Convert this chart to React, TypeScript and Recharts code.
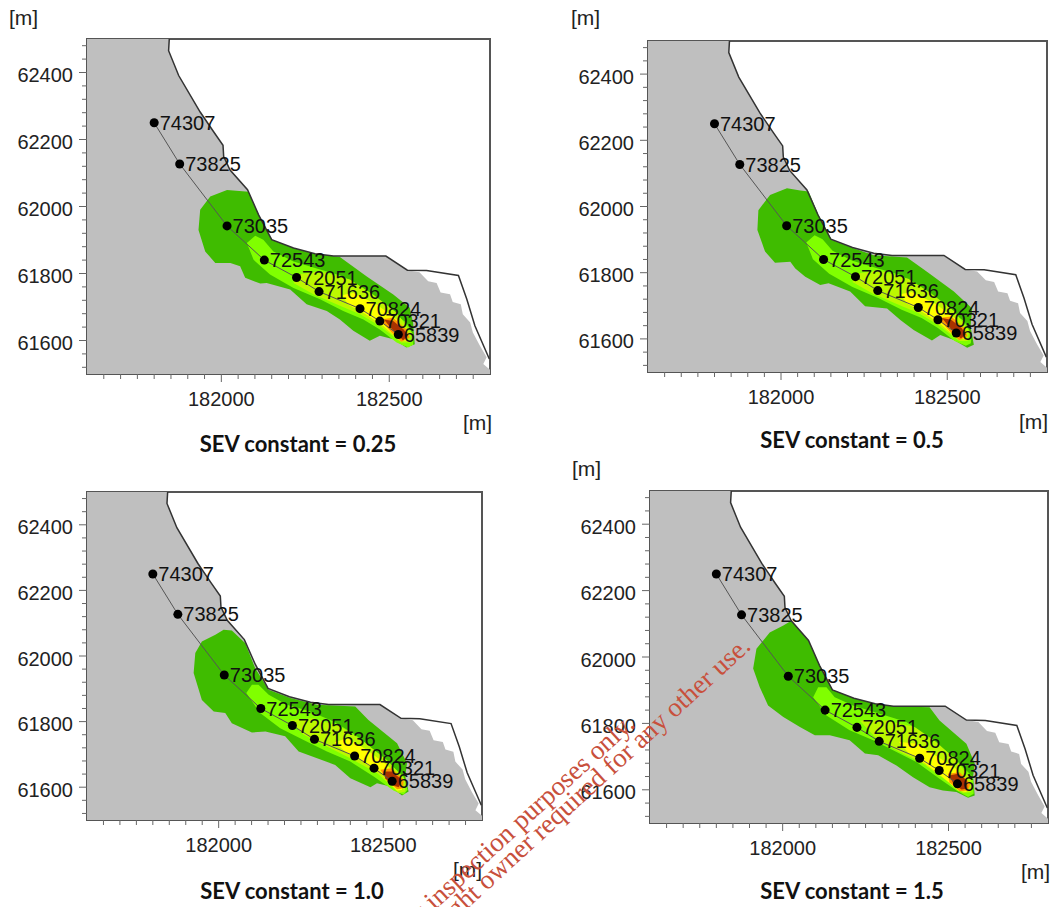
import { ScatterChart, Scatter, XAxis, YAxis, ZAxis, ReferenceArea, LabelList } from "recharts";

type Pair = [number, number];

const xDomain = [181600, 182800];
const yDomain = [61500, 62500];
const xTicks = [181650, 181700, 181750, 181800, 181850, 181900, 181950, 182000, 182050, 182100, 182150, 182200, 182250, 182300, 182350, 182400, 182450, 182500, 182550, 182600, 182650, 182700, 182750];
const yTicks = [61520, 61560, 61600, 61640, 61680, 61720, 61760, 61800, 61840, 61880, 61920, 61960, 62000, 62040, 62080, 62120, 62160, 62200, 62240, 62280, 62320, 62360, 62400, 62440, 62480];
const xLabelled = [182000, 182500];
const yLabelled = [61600, 61800, 62000, 62200, 62400];

const stationNames = ["74307", "73825", "73035", "72543", "72051", "71636", "70824", "70321", "65839"];
const stationPos: Pair[] = [[181800, 62250], [181876, 62127], [182017, 61942], [182128, 61840], [182224, 61788], [182291, 61746], [182413, 61695], [182472, 61658], [182527, 61618]];

const coast: Pair[] = [[181845, 62500], [181843, 62465], [181873, 62391], [181937, 62282], [181977, 62223], [182005, 62183], [182007, 62149], [182026, 62109], [182078, 62050], [182111, 61975], [182150, 61901], [182215, 61876], [182279, 61859], [182334, 61852], [182490, 61852], [182554, 61810], [182611, 61809], [182706, 61794], [182731, 61723], [182755, 61644], [182798, 61545]];
const landEdge: Pair[] = [[182590, 61804], [182616, 61777], [182641, 61772], [182653, 61743], [182681, 61738], [182689, 61715], [182713, 61708], [182719, 61678], [182741, 61654], [182749, 61624], [182770, 61584], [182790, 61550], [182780, 61530], [182800, 61513], [182800, 61500], [181600, 61500], [181600, 62500]];
const land: Pair[] = [...coast.slice(0, 16), ...landEdge];

// plume contours, one set per SEV constant
const outer025: Pair[] = [[182081, 62044], [182111, 61975], [182150, 61901], [182215, 61876], [182274, 61859], [182353, 61849], [182432, 61792], [182512, 61737], [182561, 61698], [182571, 61653], [182576, 61589], [182551, 61579], [182512, 61604], [182472, 61614], [182442, 61599], [182393, 61629], [182353, 61663], [182314, 61688], [182254, 61708], [182205, 61752], [182135, 61772], [182116, 61770], [182071, 61787], [182056, 61822], [182027, 61831], [181982, 61831], [181952, 61866], [181932, 61930], [181937, 61990], [181967, 62030], [182017, 62049]];
const outer05: Pair[] = [[182083, 62045], [182113, 61974], [182153, 61899], [182218, 61874], [182279, 61853], [182379, 61846], [182439, 61803], [182520, 61743], [182575, 61692], [182570, 61637], [182580, 61582], [182560, 61573], [182520, 61597], [182479, 61612], [182454, 61595], [182399, 61627], [182359, 61657], [182319, 61692], [182253, 61699], [182208, 61743], [182143, 61768], [182118, 61763], [182073, 61788], [182043, 61813], [182028, 61833], [181982, 61830], [181952, 61864], [181929, 61929], [181932, 61989], [181967, 62035], [182018, 62055], [182058, 62048]];
const outer10: Pair[] = [[182040, 62078], [182081, 62039], [182111, 61963], [182152, 61897], [182218, 61872], [182299, 61851], [182415, 61846], [182455, 61805], [182542, 61734], [182572, 61673], [182567, 61633], [182577, 61587], [182557, 61575], [182521, 61602], [182481, 61612], [182461, 61600], [182400, 61627], [182354, 61668], [182299, 61688], [182243, 61709], [182202, 61755], [182142, 61770], [182101, 61767], [182040, 61795], [182020, 61826], [181985, 61831], [181949, 61866], [181924, 61948], [181929, 62009], [181949, 62044], [181990, 62065], [182015, 62080]];
const outer15: Pair[] = [[182026, 62109], [182078, 62050], [182111, 61975], [182150, 61901], [182215, 61876], [182279, 61859], [182334, 61852], [182443, 61849], [182473, 61809], [182554, 61739], [182579, 61679], [182574, 61638], [182579, 61583], [182559, 61576], [182524, 61593], [182483, 61598], [182443, 61608], [182393, 61638], [182343, 61673], [182288, 61704], [182248, 61709], [182202, 61749], [182142, 61764], [182097, 61764], [182052, 61789], [182002, 61819], [181956, 61854], [181931, 61909], [181911, 61965], [181921, 62025], [181961, 62074], [182002, 62095]];

const lime025: Pair[] = [[182076, 61891], [182101, 61913], [182125, 61901], [182155, 61866], [182215, 61836], [182294, 61812], [182363, 61792], [182432, 61742], [182492, 61698], [182551, 61653], [182573, 61614], [182571, 61587], [182556, 61579], [182522, 61594], [182472, 61633], [182423, 61663], [182363, 61688], [182294, 61723], [182215, 61757], [182145, 61797], [182096, 61841]];
const lime10: Pair[] = [[182084, 61887], [182101, 61912], [182121, 61912], [182152, 61882], [182207, 61851], [182278, 61831], [182349, 61800], [182415, 61760], [182501, 61688], [182562, 61633], [182574, 61592], [182562, 61577], [182531, 61590], [182471, 61633], [182400, 61678], [182329, 61709], [182258, 61744], [182187, 61780], [182126, 61826]];
const lime15: Pair[] = [[182092, 61879], [182107, 61909], [182132, 61909], [182157, 61879], [182212, 61854], [182293, 61829], [182373, 61804], [182453, 61749], [182514, 61699], [182574, 61638], [182576, 61588], [182559, 61578], [182524, 61598], [182473, 61633], [182403, 61684], [182333, 61719], [182273, 61749], [182202, 61779], [182132, 61824]];

const pale025: Pair[] = [[182225, 61797], [182294, 61807], [182383, 61782], [182452, 61737], [182522, 61683], [182566, 61624], [182561, 61594], [182536, 61594], [182472, 61643], [182413, 61678], [182343, 61708], [182274, 61738], [182215, 61772]];
const pale10: Pair[] = [[182218, 61805], [182288, 61810], [182369, 61785], [182440, 61739], [182511, 61683], [182567, 61622], [182567, 61587], [182547, 61582], [182481, 61643], [182400, 61688], [182329, 61724], [182258, 61760]];
const pale15: Pair[] = [[182232, 61809], [182313, 61809], [182398, 61789], [182463, 61744], [182524, 61689], [182569, 61628], [182569, 61593], [182544, 61590], [182493, 61628], [182423, 61679], [182353, 61714], [182283, 61754]];

const yellow025: Pair[] = [[182358, 61735], [182393, 61742], [182462, 61708], [182522, 61663], [182556, 61614], [182551, 61599], [182531, 61601], [182482, 61643], [182423, 61683], [182380, 61706]];
const yellow10: Pair[] = [[182352, 61737], [182390, 61749], [182450, 61714], [182511, 61668], [182557, 61622], [182557, 61592], [182542, 61589], [182491, 61643], [182430, 61683], [182385, 61708]];
const yellow15: Pair[] = [[182350, 61745], [182403, 61739], [182468, 61699], [182524, 61663], [182559, 61608], [182554, 61593], [182529, 61598], [182483, 61638], [182423, 61684], [182380, 61710]];

const orange025: Pair[] = [[182472, 61663], [182512, 61668], [182551, 61633], [182561, 61609], [182536, 61596], [182507, 61624]];
const orange10: Pair[] = [[182491, 61653], [182526, 61658], [182562, 61622], [182560, 61597], [182542, 61594], [182511, 61622]];
const orange15: Pair[] = [[182498, 61648], [182534, 61653], [182566, 61618], [182559, 61598], [182534, 61596], [182503, 61623]];

const red025: Pair[] = [[182484, 61663], [182512, 61658], [182543, 61633], [182556, 61614], [182541, 61601], [182512, 61629]];
const red10: Pair[] = [[182501, 61648], [182526, 61648], [182557, 61622], [182547, 61600], [182526, 61607], [182506, 61627]];
const red15: Pair[] = [[182502, 61643], [182529, 61648], [182556, 61628], [182557, 61603], [182539, 61601], [182514, 61620]];

const plumeColors = ["#3fbc00", "#80ff00", "#bcf800", "#ffff00", "#ff9a00", "#a83200"];

const toPoints = (pairs: Pair[]) => pairs.map(([x, y]) => ({ x, y }));
const stations = stationPos.map(([x, y], i) => ({ x, y, name: stationNames[i] }));

const textFont = "'Liberation Sans', Arial, sans-serif";
const textColor = "#222";
const numSize = 20;

function XTick({ x, y, payload }: any) {
  const major = xLabelled.includes(payload.value);
  return (
    <g>
      <line x1={x} x2={x} y1={y} y2={y + (major ? 8 : 5)} stroke="#666" />
      {major && (
        <text x={x} y={y + 31.5} textAnchor="middle" fontFamily={textFont} fontSize={numSize} fill={textColor}>
          {payload.value}
        </text>
      )}
    </g>
  );
}

function YTick({ x, y, payload }: any) {
  const major = yLabelled.includes(payload.value);
  return (
    <g>
      <line x1={x} x2={x - (major ? 8 : 5)} y1={y} y2={y} stroke="#666" />
      {major && (
        <text x={x - 14} y={y + 9.5} textAnchor="end" fontFamily={textFont} fontSize={numSize} fill={textColor}>
          {payload.value}
        </text>
      )}
    </g>
  );
}

function Panel({ left, top, width, height, plume }: { left: number; top: number; width: number; height: number; plume: Pair[][] }) {
  const gutter = 70;
  return (
    <div style={{ position: "absolute", left: left - gutter, top: top - 12 }}>
      <ScatterChart
        width={width + gutter + 4}
        height={height + 12 + 46}
        margin={{ top: 12, right: 4, bottom: 0, left: 0 }}
      >
        <XAxis
          type="number"
          dataKey="x"
          domain={xDomain}
          ticks={xTicks}
          interval={0}
          height={46}
          tickSize={0}
          tickMargin={0}
          tickLine={false}
          axisLine={false}
          tick={XTick}
        />
        <YAxis
          type="number"
          dataKey="y"
          domain={yDomain}
          ticks={yTicks}
          interval={0}
          width={gutter}
          tickSize={0}
          tickMargin={0}
          tickLine={false}
          axisLine={false}
          tick={YTick}
        />
        <ZAxis range={[30, 30]} />
        <Scatter
          data={toPoints(land)}
          shape={() => null}
          line={{ fill: "#bfbfbf", stroke: "none" }}
          lineJointType="linearClosed"
          isAnimationActive={false}
        />
        {plume.map((pairs, i) => (
          <Scatter
            key={i}
            data={toPoints(pairs)}
            shape={() => null}
            line={{ fill: plumeColors[i], stroke: "none" }}
            lineJointType="linearClosed"
            isAnimationActive={false}
          />
        ))}
        <Scatter
          data={toPoints(coast)}
          shape={() => null}
          line={{ stroke: "#333", strokeWidth: 1.5, fill: "none" }}
          isAnimationActive={false}
        />
        <Scatter
          data={stations}
          fill="#000"
          line={{ stroke: "#555", strokeWidth: 1, fill: "none" }}
          isAnimationActive={false}
        >
          <LabelList
            dataKey="name"
            position="right"
            offset={1}
            fontFamily={textFont}
            fontSize={numSize}
            fill="#111"
          />
        </Scatter>
        <ReferenceArea
          x1={xDomain[0]}
          x2={xDomain[1]}
          y1={yDomain[0]}
          y2={yDomain[1]}
          fill="none"
          stroke="#555"
          strokeWidth={2}
        />
      </ScatterChart>
    </div>
  );
}

const unitStyle = { position: "absolute", fontFamily: textFont, fontSize: 21, color: textColor, lineHeight: "20px" } as const;
const titleStyle = {
  position: "absolute",
  width: 300,
  textAlign: "center",
  fontFamily: "Lato, sans-serif",
  fontWeight: 700,
  fontSize: 22,
  color: "#111",
  lineHeight: "24px",
} as const;

const panels = [
  { left: 87, top: 39, width: 403, height: 335, title: "SEV constant = 0.25", titleX: 298, titleY: 444, plume: [outer025, lime025, pale025, yellow025, orange025, red025] },
  { left: 648, top: 41, width: 399, height: 331, title: "SEV constant = 0.5", titleX: 852, titleY: 440, plume: [outer05, lime025, pale025, yellow025, orange025, red025] },
  { left: 87, top: 492, width: 395, height: 328, title: "SEV constant = 1.0", titleX: 292, titleY: 891, plume: [outer10, lime10, pale10, yellow10, orange10, red10] },
  { left: 650, top: 491, width: 398, height: 332, title: "SEV constant = 1.5", titleX: 852, titleY: 891, plume: [outer15, lime15, pale15, yellow15, orange15, red15] },
];

const unitLabels = [
  [9, 8], [463, 413],
  [571, 8], [1019, 412],
  [453, 860],
  [572, 459], [1021, 862],
];

export default function App() {
  return (
    <div style={{ position: "absolute", left: 0, top: 0, width: 1052, height: 907, overflow: "hidden", background: "#fff" }}>
      {panels.map((p) => (
        <Panel key={p.title} left={p.left} top={p.top} width={p.width} height={p.height} plume={p.plume} />
      ))}
      {panels.map((p) => (
        <div key={p.title} style={{ ...titleStyle, left: p.titleX - 150, top: p.titleY - 12 }}>
          {p.title}
        </div>
      ))}
      {unitLabels.map(([x, y]) => (
        <div key={`${x}-${y}`} style={{ ...unitStyle, left: x, top: y }}>
          [m]
        </div>
      ))}
      <svg width={1052} height={907} style={{ position: "absolute", left: 0, top: 0, pointerEvents: "none" }}>
        <g fontFamily="'Liberation Serif', serif" fontSize={27} fill="#c8503c" textAnchor="end">
          <text transform="translate(636 726) rotate(-42.5)">For inspection purposes only.</text>
          <text transform="translate(752 648) rotate(-42.5)">Consent of copyright owner required for any other use.</text>
        </g>
      </svg>
    </div>
  );
}
